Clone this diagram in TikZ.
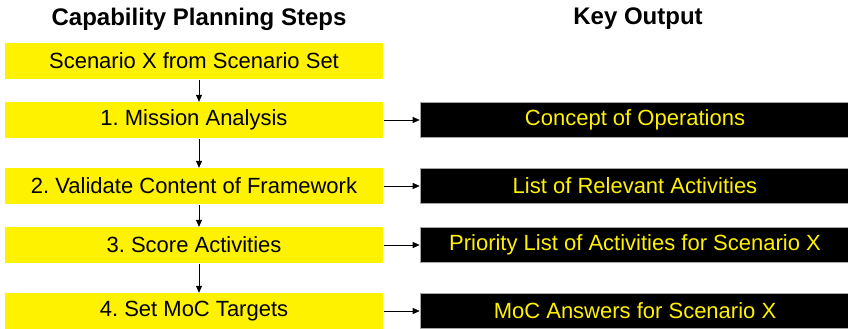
\documentclass[tikz,border=0pt]{standalone}
\usepackage{fontspec}
\setmainfont{Liberation Sans}
\usetikzlibrary{arrows.meta}

\tikzset{
  stepbox/.style={fill=yellow,minimum width=378pt,minimum height=36pt,inner sep=0pt,font=\fontsize{22}{26}\selectfont\frenchspacing},
  outbox/.style={fill=black,draw=gray!70,line width=0.6pt,minimum width=430pt,minimum height=35pt,inner sep=0pt,text=yellow,font=\fontsize{22}{26}\selectfont},
  head/.style={font=\bfseries\fontsize{24}{28}\selectfont},
  link/.style={-{Triangle[length=7pt,width=6pt]},line width=0.6pt}
}

\begin{document}
\begin{tikzpicture}[x=1pt,y=-1pt]
\useasboundingbox (0,0) rectangle (848,329);
\node[head] (h1) at (199,19) {Capability Planning Steps};
\node[head] (h2) at (638,19) {Key Output};
% steps
\node[stepbox] (s0) at (194,61)  {Scenario X from Scenario Set};
\node[stepbox] (s1) at (194,120) {1. Mission Analysis};
\node[stepbox] (s2) at (194,186) {2. Validate Content of Framework};
\node[stepbox] (s3) at (194,245) {3. Score Activities};
\node[stepbox] (s4) at (194,311) {4. Set MoC Targets};
% outputs
\node[outbox] (o1) at (635,120) {Concept of Operations};
\node[outbox] (o2) at (635,186) {List of Relevant Activities};
\node[outbox] (o3) at (635,245) {Priority List of Activities for Scenario X};
\node[outbox] (o4) at (635,311) {MoC Answers for Scenario X};
% arrows
\foreach \a/\b in {s0/s1,s1/s2,s2/s3,s3/s4}
  \draw[link] ([xshift=5pt,yshift=-1pt]\a.south) -- ([xshift=5pt]\b.north);
\foreach \i in {1,...,4}
  \draw[link] ([xshift=1pt]s\i.east) -- (o\i.west);
\end{tikzpicture}
\end{document}
